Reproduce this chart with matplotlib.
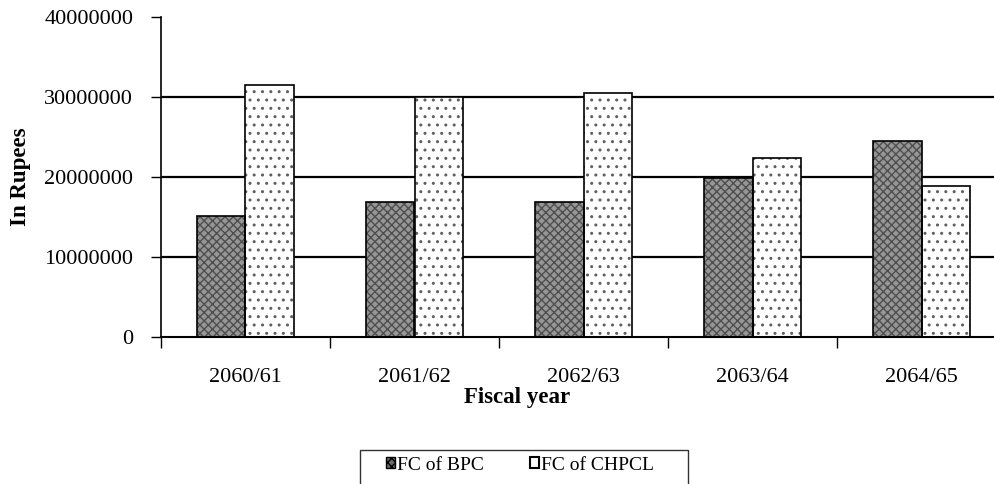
import matplotlib
matplotlib.use("Agg")
import matplotlib.pyplot as plt
import numpy as np
from matplotlib.patches import Patch, Rectangle

years = ["2060/61", "2061/62", "2062/63", "2063/64", "2064/65"]
fc_bpc = [15100000, 16900000, 16800000, 19900000, 24400000]
fc_chpcl = [31500000, 29900000, 30400000, 22300000, 18900000]
yticks = [0, 10000000, 20000000, 30000000, 40000000]
grid_vals = [10000000, 20000000, 30000000]

plt.rcParams['font.family'] = ['Liberation Serif', 'DejaVu Serif']

W, H = 995, 484
fig = plt.figure(figsize=(W / 100, H / 100), dpi=100)
ax = fig.add_axes([161 / W, 1 - 337 / H, (1006 - 161) / W, (337 - 16.5) / H])

x = np.arange(len(years))
w = 0.287
for gv in grid_vals:
    ax.axhline(gv, color='black', lw=1.6, zorder=1)

# BPC: gray hatched
ax.bar(x - w / 2, fc_bpc, w, color='#969696', edgecolor='#4e4e4e', hatch='xxxx', lw=0, zorder=2)
ax.bar(x - w / 2, fc_bpc, w, fill=False, edgecolor='black', lw=1.2, zorder=3)
# CHPCL: white dotted
ax.bar(x + w / 2, fc_chpcl, w, color='white', edgecolor='#606060', hatch='..', lw=0, zorder=2)
ax.bar(x + w / 2, fc_chpcl, w, fill=False, edgecolor='black', lw=1.2, zorder=3)

ax.set_xlim(-0.5, len(years) - 0.5)
ax.set_ylim(0, 40000000)
ax.set_yticks(yticks)
ax.set_yticklabels([str(v) for v in yticks], fontsize=16)
ax.set_xticks(x)
ax.set_xticklabels(years, fontsize=16)
ax.set_xticks(np.arange(-0.5, len(years), 1.0), minor=True)
ax.tick_params(axis='x', which='major', length=0, pad=22)
ax.tick_params(axis='x', which='minor', length=8, width=1, direction='out')
ax.tick_params(axis='y', length=7, width=1, direction='out', pad=13)

for s in ['top', 'right']:
    ax.spines[s].set_visible(False)
ax.spines['left'].set_linewidth(1.2)
ax.spines['bottom'].set_linewidth(1.5)

ax.set_ylabel("In Rupees", fontsize=16.5, fontweight='bold')
ax.yaxis.set_label_coords((31 - 161) / 845, 0.5)
fig.text(517 / W, 1 - 398 / H, "Fiscal year", ha='center', va='center', fontsize=16.5, fontweight='bold')

# legend frame drawn manually (clipped at bottom like the reference)
fig.patches.append(Rectangle((360 / W, -0.05), (688 - 360) / W, 0.05 + (484 - 450) / H,
                             transform=fig.transFigure, fill=False, edgecolor='#333333', lw=1.0))
handles = [Patch(facecolor='#6a6a6a', edgecolor='black', hatch='xxxx', lw=1),
           Patch(facecolor='white', edgecolor='black', lw=1.5)]
leg = fig.legend(handles, ["FC of BPC", "FC of CHPCL"], loc='center',
                 bbox_to_anchor=(520 / W, 1 - 465 / H), ncol=2, fontsize=14,
                 frameon=False, handlelength=0.45, handleheight=0.45, handletextpad=0.1,
                 columnspacing=2.4, borderpad=0, borderaxespad=0)

fig.savefig("out.png", dpi=100)
